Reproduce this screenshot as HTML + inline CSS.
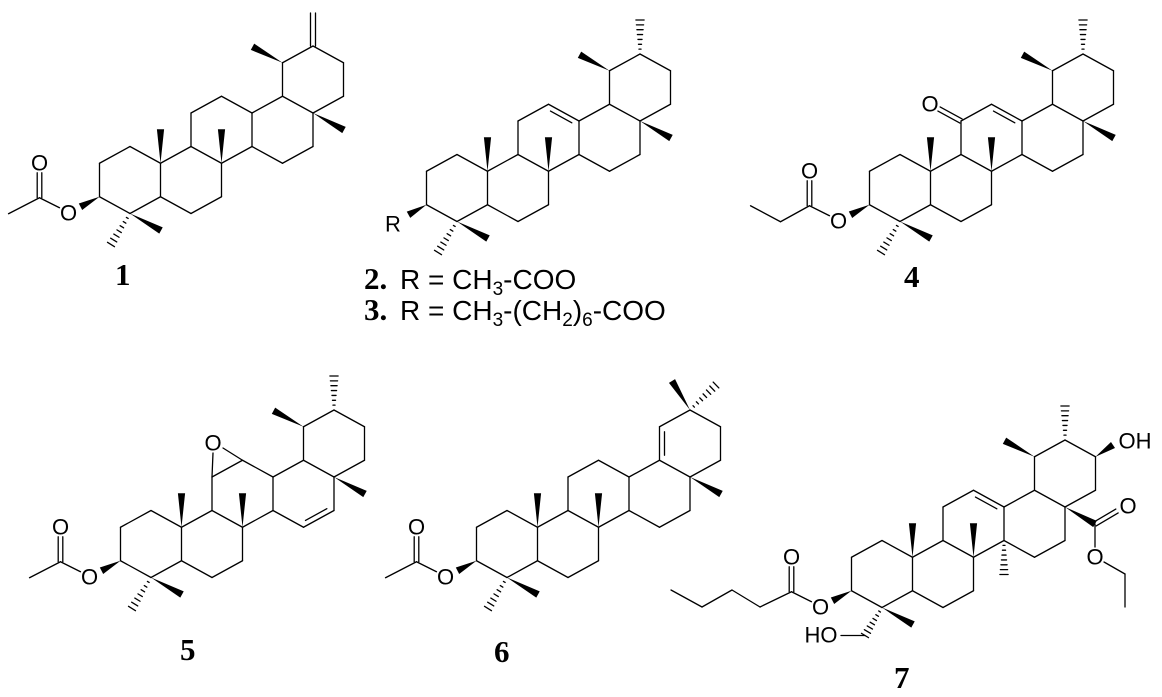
<!DOCTYPE html>
<html><head><meta charset="utf-8">
<style>
html,body{margin:0;padding:0;background:#fff;}
svg{display:block;}
</style></head>
<body>
<svg id="s" width="1162" height="697" viewBox="0 0 1162 697" xmlns="http://www.w3.org/2000/svg">
<g id="g" stroke="#000" stroke-width="1.3" fill="none" stroke-linecap="round"></g>
<g id="t" font-family="Liberation Sans, sans-serif" fill="#000" text-anchor="middle"></g>
</svg>
<script>
const hw=30.5,s=33.5,h=s/2;
const RO={A:[0,0],B:[2*hw,0],C:[3*hw,-1.5*s],D:[5*hw,-1.5*s],E:[6*hw,-3*s]};
const VO={t:[0,-s],tr:[hw,-h],br:[hw,h],b:[0,s],bl:[-hw,h],tl:[-hw,-h]};
const ORD=['t','tr','br','b','bl','tl'];
let out='',txt='';
const f=n=>n.toFixed(2);
function L(p,q){out+=`<line x1="${f(p[0])}" y1="${f(p[1])}" x2="${f(q[0])}" y2="${f(q[1])}"/>`;}
function W(p,q,w=3.6){const dx=q[0]-p[0],dy=q[1]-p[1],l=Math.hypot(dx,dy),nx=-dy/l*w,ny=dx/l*w;
 out+=`<polygon fill="#000" stroke="none" points="${f(p[0])},${f(p[1])} ${f(q[0]+nx)},${f(q[1]+ny)} ${f(q[0]-nx)},${f(q[1]-ny)}"/>`;}
function H(p,q,n=7,w=3.6){const dx=q[0]-p[0],dy=q[1]-p[1],l=Math.hypot(dx,dy),ux=-dy/l,uy=dx/l;
 for(let i=1;i<=n;i++){const t=i/n,x=p[0]+dx*t,y=p[1]+dy*t,a=w*t+0.5;L([x-ux*a,y-uy*a],[x+ux*a,y+uy*a]);}}
function DI(p,q,c){const mx=(p[0]+q[0])/2,my=(p[1]+q[1])/2;let vx=c[0]-mx,vy=c[1]-my;const l=Math.hypot(vx,vy);vx=vx/l*5;vy=vy/l*5;
 const k=0.15;L([p[0]+(q[0]-p[0])*k+vx,p[1]+(q[1]-p[1])*k+vy],[q[0]+(p[0]-q[0])*k+vx,q[1]+(p[1]-q[1])*k+vy]);}
function DC(p,q,o=2.3){const dx=q[0]-p[0],dy=q[1]-p[1],l=Math.hypot(dx,dy),nx=-dy/l*o,ny=dx/l*o;
 L([p[0]+nx,p[1]+ny],[q[0]+nx,q[1]+ny]);L([p[0]-nx,p[1]-ny],[q[0]-nx,q[1]-ny]);}
function T(x,y,str,size=22,extra=''){txt+=`<text x="${x}" y="${y}" font-size="${size}" dominant-baseline="central" ${extra}>${str}</text>`;}
function N(x,y,str){txt+=`<text x="${x}" y="${y}" font-size="31" text-anchor="start" font-family="Liberation Serif, serif" font-weight="bold">${str}</text>`;}
function mk(ax,ay){
 const P=(r,v)=>[ax+RO[r][0]+VO[v][0],ay+RO[r][1]+VO[v][1]];
 const C=r=>[ax+RO[r][0],ay+RO[r][1]];
 const seen={};
 for(const r of ['A','B','C','D','E']){for(let i=0;i<6;i++){const p=P(r,ORD[i]),q=P(r,ORD[(i+1)%6]);
  const k=[p,q].map(z=>Math.round(z[0])+','+Math.round(z[1])).sort().join('|');if(seen[k])continue;seen[k]=1;L(p,q);}}
 const add=(p,d)=>[p[0]+d[0],p[1]+d[1]];
 return {P,C,add};
}
function common(m){
 const {P,add}=m;
 W(P('A','b'),add(P('A','b'),[31,17]));
 H(P('A','b'),add(P('A','b'),[-19,31]));
 W(P('A','tr'),add(P('A','tr'),[0,-34]));
 W(P('B','tr'),add(P('B','tr'),[0,-34]));
}
function ester(c3){
 const O=[c3[0]-31,c3[1]+16],C=[c3[0]-60,c3[1]+1];
 W(c3,[c3[0]-19,c3[1]+10]);
 T(O[0],O[1],'O');
 L([O[0]-9,O[1]-5],C);
 DC(C,[C[0],C[1]-25]);
 T(C[0],C[1]-35,'O');
 return C;
}
(function(){const m=mk(130,180);const {P,add}=m;common(m);
 const C=ester(P('A','bl'));L(C,[C[0]-31,C[1]+16]);
 W(P('D','tr'),add(P('D','tr'),[31,17]));
 W(P('E','tl'),add(P('E','tl'),[-30,-16]));
 DC(P('E','t'),add(P('E','t'),[0,-33]),2.5);
 N(115,285,'1');
})();
function urs(m){const {P,add}=m;
 W(P('D','tr'),add(P('D','tr'),[31,17]));
 W(P('E','tl'),add(P('E','tl'),[-30,-16]));
 H(P('E','t'),add(P('E','t'),[0,-34]));
}
(function(){const m=mk(457,188);const {P,C,add}=m;common(m);urs(m);
 DI(P('C','t'),P('C','tr'),C('C'));
 W(P('A','bl'),add(P('A','bl'),[-18,10]));
 T(393,224,'R');
 N(364,289,'2.');N(364,320,'3.');
 txt+=`<text x="400" y="289" font-size="28" text-anchor="start">R = CH<tspan font-size="19" dy="6">3</tspan><tspan dy="-6">-COO</tspan></text>`;
 txt+=`<text x="400" y="320" font-size="28" text-anchor="start">R = CH<tspan font-size="19" dy="6">3</tspan><tspan dy="-6">-(CH</tspan><tspan font-size="19" dy="6">2</tspan><tspan dy="-6">)</tspan><tspan font-size="19" dy="6">6</tspan><tspan dy="-6">-COO</tspan></text>`;
})();
(function(){const m=mk(900,188);const {P,C,add}=m;common(m);urs(m);
 DI(P('C','t'),P('C','tr'),C('C'));
 const c=ester(P('A','bl'));const c2=[c[0]-29,c[1]+16];L(c,c2);L(c2,[c2[0]-30,c2[1]-16]);
 const k=P('C','tl');DC(k,[k[0]-22,k[1]-12]);T(930,104,'O');
 N(904,287,'4');
})();
(function(){const m=mk(151,544);const {P,C,add}=m;common(m);
 const c=ester(P('A','bl'));L(c,[c[0]-31,c[1]+16]);
 W(P('D','tr'),add(P('D','tr'),[31,17]));
 W(P('E','tl'),add(P('E','tl'),[-30,-16]));
 H(P('E','t'),add(P('E','t'),[0,-34]));
 DI(P('D','br'),P('D','b'),C('D'));
 const o=[213,443];T(o[0],o[1],'O');
 L(P('C','tl'),[o[0],o[1]+10]);L(P('C','t'),[o[0]+10,o[1]+5]);
 N(180,660,'5');
})();
(function(){const m=mk(507,544);const {P,C,add}=m;common(m);
 const c=ester(P('A','bl'));L(c,[c[0]-31,c[1]+16]);
 W(P('D','tr'),add(P('D','tr'),[31,17]));
 DI(P('E','tl'),P('E','bl'),C('E'));
 W(P('E','t'),add(P('E','t'),[-18,-29]));
 H(P('E','t'),add(P('E','t'),[26,-25]));
 N(494,662,'6');
})();
(function(){const m=mk(882,574);const {P,C,add}=m;
 W(P('A','b'),add(P('A','b'),[31,17]));
 const hc=add(P('A','b'),[-17,28]);H(P('A','b'),hc);L(hc,[841,hc[1]]);T(821,635,'HO');
 W(P('A','tr'),add(P('A','tr'),[0,-34]));
 W(P('B','tr'),add(P('B','tr'),[0,-34]));
 DI(P('C','t'),P('C','tr'),C('C'));
 H(P('C','br'),add(P('C','br'),[0,34]));
 W(P('E','tl'),add(P('E','tl'),[-30,-16]));
 H(P('E','t'),add(P('E','t'),[0,-34]));
 W(P('E','tr'),[1113,445]);T(1135,441,'OH');
 const ec=[1095,524];W(P('D','tr'),ec);
 DC(ec,[1117,511]);T(1128,506,'O');
 L(ec,[1095,547]);T(1095,557,'O');L([1104,562],[1125,574]);L([1125,574],[1125,607]);
 const c=ester(P('A','bl'));
 let pts=[c,[760,607],[732,590],[702,607],[671,590]];
 for(let i=0;i<pts.length-1;i++)L(pts[i],pts[i+1]);
 N(894,688,'7');
})();
document.getElementById('g').innerHTML=out;
document.getElementById('t').innerHTML=txt;
</script>
</body></html>
